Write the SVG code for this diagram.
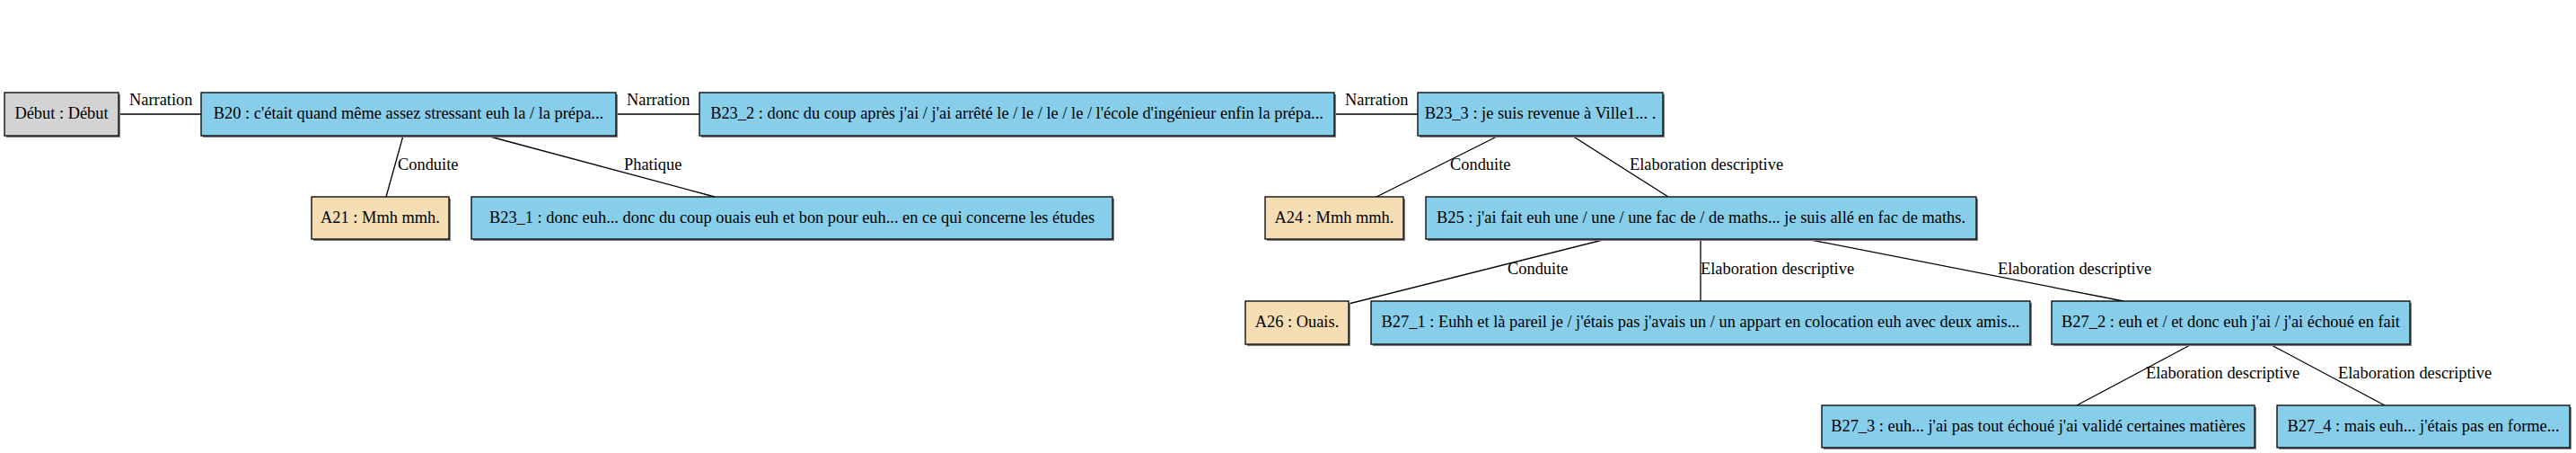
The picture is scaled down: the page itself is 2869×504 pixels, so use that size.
<svg xmlns="http://www.w3.org/2000/svg" width="2869" height="504" viewBox="0 0 2869 504">
<style>
text{font-family:"Liberation Serif","Times New Roman",serif;font-size:18.4px;fill:#000}
.n text{text-anchor:middle}
.sh{fill:#808080}
.b{stroke:#000;stroke-width:1.3}
.blue{fill:#87CEEB}
.wheat{fill:#F5DEB3}
.gray{fill:#D3D3D3}
#edges line{stroke:#000;stroke-width:1.3}
</style>
<rect width="2869" height="504" fill="#fff"/>
<g id="edges">
<line x1="132" y1="127" x2="224" y2="127"/>
<text x="144" y="117">Narration</text>
<line x1="686" y1="127" x2="779" y2="127"/>
<text x="698" y="117">Narration</text>
<line x1="1486" y1="127" x2="1579" y2="127"/>
<text x="1498" y="117">Narration</text>
<line x1="449" y1="151" x2="430" y2="219"/>
<text x="443" y="189">Conduite</text>
<line x1="542" y1="151" x2="796" y2="219"/>
<text x="695" y="189">Phatique</text>
<line x1="1669" y1="151" x2="1533" y2="219"/>
<text x="1615" y="189">Conduite</text>
<line x1="1751" y1="151" x2="1858" y2="219"/>
<text x="1815" y="189">Elaboration descriptive</text>
<line x1="1789" y1="266" x2="1502" y2="338"/>
<text x="1679" y="305">Conduite</text>
<line x1="1894" y1="266" x2="1894" y2="335"/>
<text x="1894" y="305">Elaboration descriptive</text>
<line x1="2012" y1="266" x2="2365" y2="335"/>
<text x="2225" y="305">Elaboration descriptive</text>
<line x1="2441" y1="383" x2="2313" y2="451"/>
<text x="2390" y="421">Elaboration descriptive</text>
<line x1="2528" y1="383" x2="2656" y2="451"/>
<text x="2604" y="421">Elaboration descriptive</text>
</g>
<g id="debut" class="n"><rect class="sh" x="7" y="105" width="127" height="48"/><rect class="b gray" x="5" y="103" width="127" height="48"/><text x="68.5" y="132">Début : Début</text></g>
<g id="B20" class="n"><rect class="sh" x="226" y="105" width="462" height="48"/><rect class="b blue" x="224" y="103" width="462" height="48"/><text x="455" y="132">B20 : c'était quand même assez stressant euh la / la prépa...</text></g>
<g id="B23_2" class="n"><rect class="sh" x="781" y="105" width="707" height="48"/><rect class="b blue" x="779" y="103" width="707" height="48"/><text x="1132.5" y="132">B23_2 : donc du coup après j'ai / j'ai arrêté le / le / le / le / l'école d'ingénieur enfin la prépa...</text></g>
<g id="B23_3" class="n"><rect class="sh" x="1581" y="105" width="273" height="48"/><rect class="b blue" x="1579" y="103" width="273" height="48"/><text x="1715.5" y="132">B23_3 : je suis revenue à Ville1... .</text></g>
<g id="A21" class="n"><rect class="sh" x="349" y="221" width="153" height="47"/><rect class="b wheat" x="347" y="219" width="153" height="47"/><text x="423.5" y="247.5">A21 : Mmh mmh.</text></g>
<g id="B23_1" class="n"><rect class="sh" x="527" y="221" width="714" height="47"/><rect class="b blue" x="525" y="219" width="714" height="47"/><text x="882" y="247.5">B23_1 : donc euh... donc du coup ouais euh et bon pour euh... en ce qui concerne les études</text></g>
<g id="A24" class="n"><rect class="sh" x="1411" y="221" width="154" height="47"/><rect class="b wheat" x="1409" y="219" width="154" height="47"/><text x="1486" y="247.5">A24 : Mmh mmh.</text></g>
<g id="B25" class="n"><rect class="sh" x="1590" y="221" width="613" height="47"/><rect class="b blue" x="1588" y="219" width="613" height="47"/><text x="1894.5" y="247.5">B25 : j'ai fait euh une / une / une fac de / de maths... je suis allé en fac de maths.</text></g>
<g id="A26" class="n"><rect class="sh" x="1389" y="337" width="115" height="48"/><rect class="b wheat" x="1387" y="335" width="115" height="48"/><text x="1444.5" y="364">A26 : Ouais.</text></g>
<g id="B27_1" class="n"><rect class="sh" x="1529" y="337" width="734" height="48"/><rect class="b blue" x="1527" y="335" width="734" height="48"/><text x="1894" y="364">B27_1 : Euhh et là pareil je / j'étais pas j'avais un / un appart en colocation euh avec deux amis...</text></g>
<g id="B27_2" class="n"><rect class="sh" x="2287" y="337" width="399" height="48"/><rect class="b blue" x="2285" y="335" width="399" height="48"/><text x="2484.5" y="364">B27_2 : euh et / et donc euh j'ai / j'ai échoué en fait</text></g>
<g id="B27_3" class="n"><rect class="sh" x="2031" y="453" width="482" height="47"/><rect class="b blue" x="2029" y="451" width="482" height="47"/><text x="2270" y="479.5">B27_3 : euh... j'ai pas tout échoué j'ai validé certaines matières</text></g>
<g id="B27_4" class="n"><rect class="sh" x="2538" y="453" width="326" height="47"/><rect class="b blue" x="2536" y="451" width="326" height="47"/><text x="2699" y="479.5">B27_4 : mais euh... j'étais pas en forme...</text></g>
</svg>
